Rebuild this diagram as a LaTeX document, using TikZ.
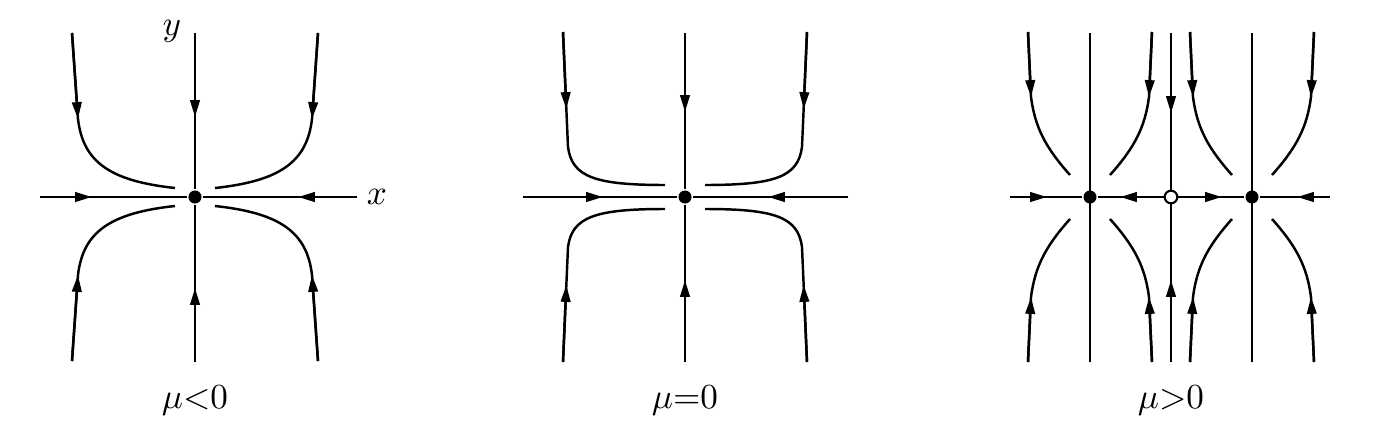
\documentclass[tikz,border=0pt]{standalone}
\usepackage{amsmath,amssymb}
\usepackage{tikz}
\usetikzlibrary{arrows.meta}

\begin{document}
\begin{tikzpicture}[
  x=0.01cm, y=-0.01cm,
  line width=0.7pt,
  >={Triangle[length=4.8pt,width=2.7pt]},
  flow/.style={->},
  fixed/.style={circle, fill, inner sep=0pt, minimum size=3.7pt},
  unstable/.style={circle, draw, fill=white, line width=0.6pt, inner sep=0pt, minimum size=3.6pt},
  lbl/.style={font=\normalsize}
]
\useasboundingbox (0,0) rectangle (1381,433);

% mu < 0
\begin{scope}[shift={(195,197)}]
\node[fixed] (s1) at (0,0) {};
\draw (-155,0) -- (s1) -- (162,0);
\draw (0,-164) -- (s1) -- (0,165);
\draw[flow] (-155,0) -- (-103,0);
\draw[flow] (162,0) -- (103,0);
\draw[flow] (0,-164) -- (0,-80);
\draw[flow] (0,165) -- (0,91);
\foreach \sx in {-1,1} \foreach \sy in {-1,1} {
  \begin{scope}[xscale=\sx, yscale=\sy]
    \draw (-123,-164) -- (-117,-78) .. controls (-112,-35) and (-85,-16) .. (-20,-9);
    \draw[flow] (-123,-164) -- (-117,-78);
  \end{scope}
}
\node[lbl] (ylab) at (-23,-166) {$y$};
\node[lbl] (xlab) at (182,0) {$x$};
\node[lbl] (mu1) at (0,204) {$\mu{<}0$};
\end{scope}

% mu = 0
\begin{scope}[shift={(685,197)}]
\node[fixed] (s2) at (0,0) {};
\draw (-162,0) -- (s2) -- (163,0);
\draw (0,-164) -- (s2) -- (0,165);
\draw[flow] (-162,0) -- (-82,0);
\draw[flow] (163,0) -- (83,0);
\draw[flow] (0,-164) -- (0,-85);
\draw[flow] (0,165) -- (0,83);
\foreach \sx in {-1,1} \foreach \sy in {-1,1} {
  \begin{scope}[xscale=\sx, yscale=\sy]
    \draw (-122,-165) -- (-117,-50) .. controls (-113,-20) and (-90,-12) .. (-20,-12);
    \draw[flow] (-122,-165) -- (-118.65,-88);
  \end{scope}
}
\node[lbl] (mu2) at (0,204) {$\mu{=}0$};
\end{scope}

% mu > 0
\begin{scope}[shift={(1171,197)}]
\node[fixed] (a3) at (-81,0) {};
\node[fixed] (b3) at (81,0) {};
\node[unstable] (u3) at (0,0) {};
\draw (-81,-164) -- (-81,165);
\draw (81,-164) -- (81,165);
\draw (-161,0) -- (a3) -- (u3) -- (b3) -- (159,0);
\draw (0,-164) -- (u3) -- (0,165);
\draw[flow] (-161,0) -- (-124,0);
\draw[flow] (u3) -- (-51,0);
\draw[flow] (u3) -- (51,0);
\draw[flow] (159,0) -- (126,0);
\draw[flow] (0,-164) -- (0,-84);
\draw[flow] (0,165) -- (0,83);
\foreach \cx in {-81,81} \foreach \sx in {-1,1} \foreach \sy in {-1,1} {
  \begin{scope}[shift={(\cx,0)}, xscale=\sx, yscale=\sy]
    \draw (-62,-165) -- (-59,-100) .. controls (-55,-70) and (-45,-50) .. (-20,-22);
    \draw[flow] (-62,-165) -- (-59,-100);
  \end{scope}
}
\node[lbl] (mu3) at (0,204) {$\mu{>}0$};
\end{scope}
\end{tikzpicture}
\end{document}
